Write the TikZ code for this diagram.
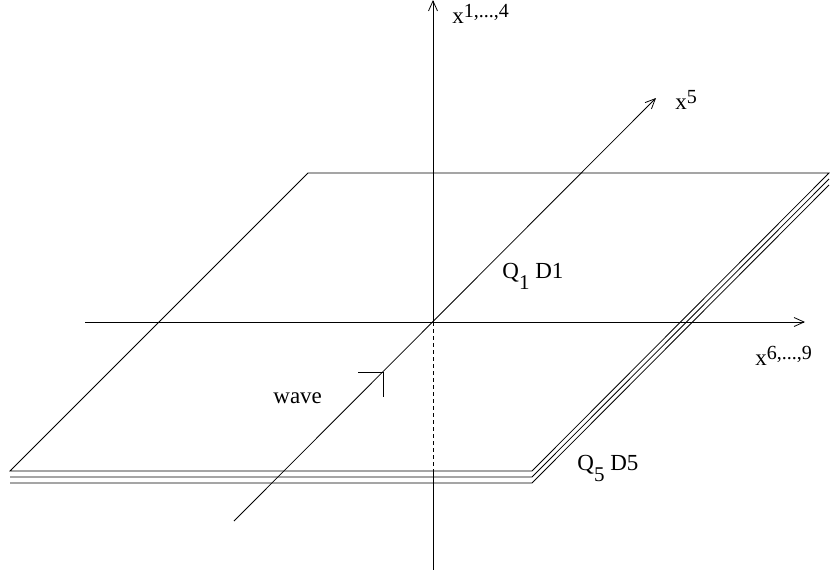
\documentclass[tikz,border=0pt]{standalone}
\usepackage{fontspec}
\setmainfont{Liberation Serif}
\usetikzlibrary{arrows.meta}
\newcommand{\supx}[1]{\raisebox{6pt}{\fontsize{20}{22}\selectfont #1}}
\newcommand{\subx}[1]{\raisebox{-11pt}{\fontsize{21}{23}\selectfont #1}}
\begin{document}
\begin{tikzpicture}[x=1pt,y=-1pt,line width=0.8pt,
  ax/.style={-{Straight Barb[length=10pt,width=9pt,line width=0.8pt]}},
  hid/.style={dash pattern=on 4pt off 3pt},
  lbl/.style={font=\fontsize{23}{26}\selectfont,inner sep=0pt,anchor=base west}]
\useasboundingbox (0,0) rectangle (830,576);
% plane corners
\coordinate (TL) at (308,173);
\coordinate (TR) at (829,173);
\coordinate (BR) at (532,471);
\coordinate (BL) at (10,471);
\coordinate (BL2) at (10,477);
\coordinate (BR2) at (532,477);
\coordinate (TR2) at (829,179);
\coordinate (BL3) at (10,483);
\coordinate (BR3) at (532,483);
\coordinate (TR3) at (829,185);
\draw (TL) -- (TR) -- (BR) -- (BL) -- cycle;
\draw (BL2) -- (BR2) -- (TR2);
\draw (BL3) -- (BR3) -- (TR3);
% axes
\coordinate (O) at (433,322);
\coordinate (Vtop) at (433,0);
\coordinate (Vplane) at (433,471);
\coordinate (Vbot) at (433,570);
\coordinate (Hleft) at (85,322);
\coordinate (Hright) at (805,322);
\coordinate (Dbot) at (234,521);
\coordinate (Dtop) at (656,98);
\draw[ax] (O) -- (Vtop);
\draw[hid] (O) -- (Vplane);
\draw (Vplane) -- (Vbot);
\draw[ax] (Hleft) -- (Hright);
\draw[ax] (Dbot) -- (Dtop);
% wave marker
\coordinate (W) at (383,372);
\coordinate (Wl) at (358,372);
\coordinate (Wd) at (383,397);
\draw (Wl) -- (W) -- (Wd);
% labels
\node[lbl] (l14) at (452,23) {x\supx{1,...,4}};
\node[lbl] (l5) at (675,109) {x\supx{5}};
\node[lbl] (l69) at (755,365) {x\supx{6,...,9}};
\node[lbl] (q1) at (502,278) {Q\subx{1} D1};
\node[lbl] (q5) at (577,470) {Q\subx{5} D5};
\node[lbl] (wave) at (273,403) {wave};
\end{tikzpicture}
\end{document}
